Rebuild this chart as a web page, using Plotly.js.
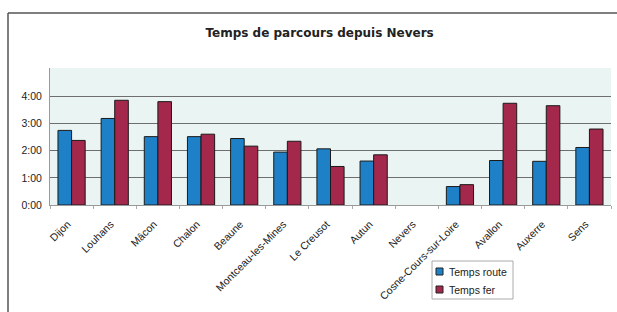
<!DOCTYPE html>
<html><head><meta charset="utf-8">
<script src="https://cdn.plot.ly/plotly-3.0.1.min.js"></script>
<style>html,body{margin:0;padding:0;background:#fff;}#chart{width:617px;height:312px;}</style>
</head><body><div id="chart"></div>
<script>
const villes = ["Dijon","Louhans","Mâcon","Chalon","Beaune","Montceau-les-Mines","Le Creusot","Autun","Nevers","Cosne-Cours-sur-Loire","Avallon","Auxerre","Sens"];
// durées en heures décimales
const tempsRoute = [2.75, 3.19, 2.52, 2.52, 2.45, 1.95, 2.07, 1.62, 0, 0.68, 1.64, 1.61, 2.12];
const tempsFer   = [2.38, 3.86, 3.81, 2.61, 2.17, 2.35, 1.42, 1.85, 0, 0.75, 3.75, 3.66, 2.80];
const tickVals = [0, 1, 2, 3, 4];
const tickText = ["0:00", "1:00", "2:00", "3:00", "4:00"];
const seriesNames = ["Temps route", "Temps fer"];
const seriesColors = ["#1e80c6", "#a3284c"];

const W = 617, H = 312, ML = 50, MR = 6, MT = 68, MB = 107;
const PW = W - ML - MR, PH = H - MT - MB;
const px = v => (v - ML) / PW;
const py = v => (H - MB - v) / PH;

const series = [tempsRoute, tempsFer];
const traces = series.map((vals, i) => ({
  type:"bar", name:seriesNames[i], x:villes, y:vals, showlegend:false,
  marker:{color:seriesColors[i], line:{color:"#1a1a1a", width:vals.map(v => v > 0 ? 1 : 0)}}
}));

const shapes = [
  {type:"line", xref:"paper", yref:"paper", x0:px(8), x1:px(625), y0:py(13), y1:py(13), line:{color:"#555", width:1.5}},
  {type:"line", xref:"paper", yref:"paper", x0:px(8), x1:px(8), y0:py(13), y1:py(315), line:{color:"#555", width:1.5}},
  // legend box
  {type:"rect", xref:"paper", yref:"paper", x0:px(432), x1:px(513), y0:py(261), y1:py(299), line:{color:"#aaaaaa", width:1}, fillcolor:"#ffffff"},
  {type:"rect", xref:"paper", yref:"paper", x0:px(436), x1:px(443), y0:py(268), y1:py(275), line:{color:"#222", width:1}, fillcolor:seriesColors[0]},
  {type:"rect", xref:"paper", yref:"paper", x0:px(436), x1:px(443), y0:py(286), y1:py(293), line:{color:"#222", width:1}, fillcolor:seriesColors[1]}
];
const annotations = [
  {xref:"paper", yref:"paper", x:px(447), y:py(271.5), xanchor:"left", yanchor:"middle", text:seriesNames[0], showarrow:false, font:{size:10.5, color:"#222"}},
  {xref:"paper", yref:"paper", x:px(447), y:py(289.5), xanchor:"left", yanchor:"middle", text:seriesNames[1], showarrow:false, font:{size:10.5, color:"#222"}}
];

const layout = {
  width:W, height:H,
  margin:{l:ML, r:MR, t:MT, b:MB},
  paper_bgcolor:"#ffffff", plot_bgcolor:"#eaf4f2",
  barmode:"group", bargap:0.37, bargroupgap:0,
  font:{family:"Liberation Sans, Arial, sans-serif", size:10.5, color:"#222"},
  title:{text:"<b>Temps de parcours depuis Nevers</b>", font:{family:"DejaVu Sans, sans-serif", size:12, color:"#222"},
         x:0.518, xanchor:"center", y:0.895, yanchor:"middle"},
  xaxis:{automargin:false, tickangle:-45, tickfont:{size:10.5, color:"#222"}, showline:true, linecolor:"#999", linewidth:1,
         ticks:"outside", ticklen:3, tickcolor:"#aaa", tickson:"boundaries", showgrid:false,
         ticklabelstandoff:8, ticklabelshift:-4},
  yaxis:{automargin:false, range:[0,5.05], tickvals:tickVals, ticktext:tickText, showgrid:true, gridcolor:"#6e6e6e", gridwidth:1,
         showline:true, linecolor:"#999", linewidth:1, zeroline:false, ticklabelstandoff:5, tickfont:{size:10.5, color:"#222"}},
  showlegend:false,
  shapes:shapes,
  annotations:annotations
};
Plotly.newPlot("chart", traces, layout, {displayModeBar:false, staticPlot:true});
</script></body></html>
